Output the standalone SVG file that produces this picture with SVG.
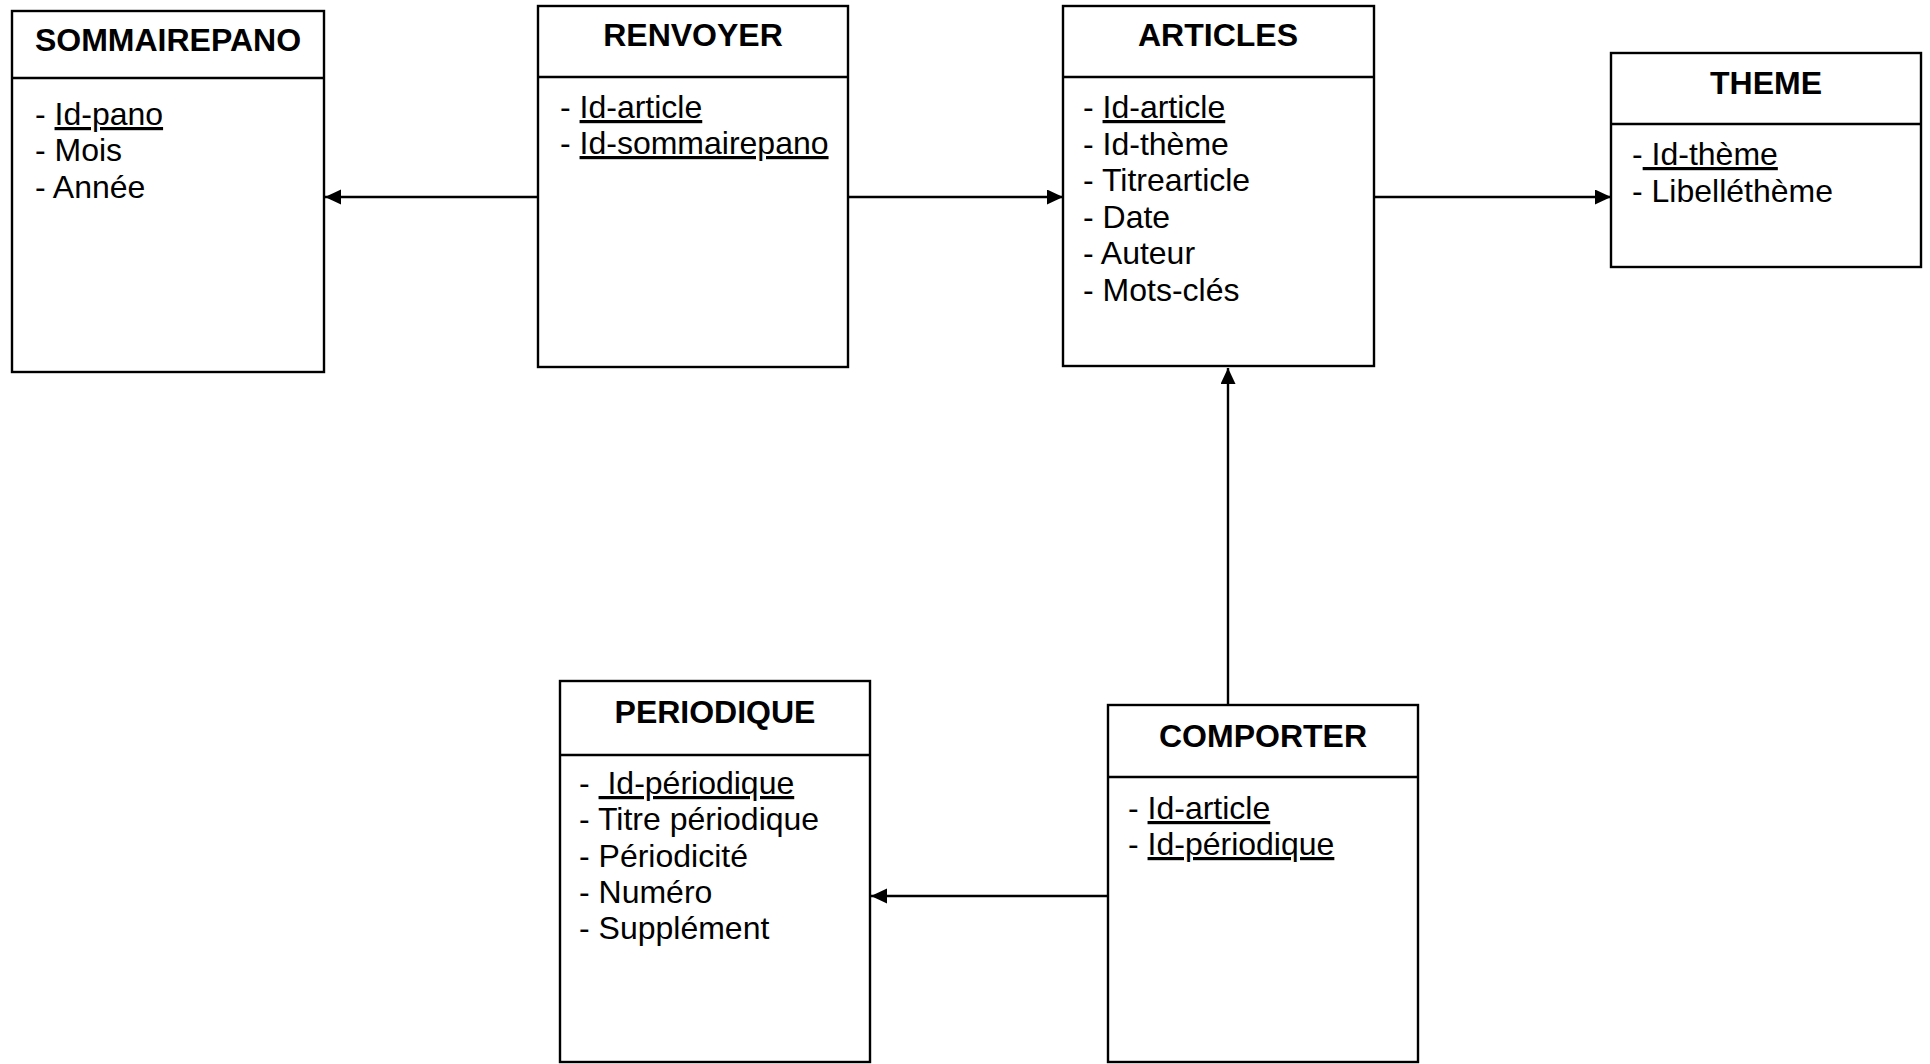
<svg xmlns="http://www.w3.org/2000/svg" width="1930" height="1064" viewBox="0 0 1930 1064">
<defs>
<style>
.box{fill:#fff;stroke:#000;stroke-width:2.4}
.div{stroke:#000;stroke-width:2.4}
.title{font-family:"Liberation Sans",Arial,sans-serif;font-weight:bold;font-size:32px;fill:#000;text-anchor:middle}
.item{font-family:"Liberation Sans",Arial,sans-serif;font-size:32px;fill:#000}
.u{text-decoration:underline}
.conn{stroke:#000;stroke-width:2.4;fill:none}
</style>
<marker id="arr" markerUnits="userSpaceOnUse" markerWidth="17" markerHeight="16" refX="16" refY="7.5" orient="auto">
<path d="M0,0 L16,7.5 L0,15 z" fill="#000"/>
</marker>
</defs>
<rect width="1930" height="1064" fill="#fff"/>
<g id="connectors">
<line class="conn" x1="538" y1="197" x2="325" y2="197" marker-end="url(#arr)"/>
<line class="conn" x1="848" y1="197" x2="1063" y2="197" marker-end="url(#arr)"/>
<line class="conn" x1="1374" y1="197" x2="1611" y2="197" marker-end="url(#arr)"/>
<line class="conn" x1="1228" y1="705" x2="1228" y2="368" marker-end="url(#arr)"/>
<line class="conn" x1="1108" y1="896" x2="871" y2="896" marker-end="url(#arr)"/>
</g>
<g id="sommairepano">
<rect class="box" x="12" y="11" width="312" height="361"/>
<line class="div" x1="12" y1="78" x2="324" y2="78"/>
<text class="title" x="168" y="51">SOMMAIREPANO</text>
<text class="item" x="35" y="125">- <tspan class="u">Id-pano</tspan></text>
<text class="item" x="35" y="161">- Mois</text>
<text class="item" x="35" y="198">- Année</text>
</g>
<g id="renvoyer">
<rect class="box" x="538" y="6" width="310" height="361"/>
<line class="div" x1="538" y1="77" x2="848" y2="77"/>
<text class="title" x="693" y="46">RENVOYER</text>
<text class="item" x="560" y="118">- <tspan class="u">Id-article</tspan></text>
<text class="item" x="560" y="154">- <tspan class="u">Id-sommairepano</tspan></text>
</g>
<g id="articles">
<rect class="box" x="1063" y="6" width="311" height="360"/>
<line class="div" x1="1063" y1="77" x2="1374" y2="77"/>
<text class="title" x="1218" y="46">ARTICLES</text>
<text class="item" x="1083" y="118">- <tspan class="u">Id-article</tspan></text>
<text class="item" x="1083" y="155">- Id-thème</text>
<text class="item" x="1083" y="191">- Titrearticle</text>
<text class="item" x="1083" y="228">- Date</text>
<text class="item" x="1083" y="264">- Auteur</text>
<text class="item" x="1083" y="301">- Mots-clés</text>
</g>
<g id="theme">
<rect class="box" x="1611" y="53" width="310" height="214"/>
<line class="div" x1="1611" y1="124" x2="1921" y2="124"/>
<text class="title" x="1766" y="94">THEME</text>
<text class="item" x="1632" y="165">-<tspan class="u"> Id-thème</tspan></text>
<text class="item" x="1632" y="202">- Libelléthème</text>
</g>
<g id="periodique">
<rect class="box" x="560" y="681" width="310" height="381"/>
<line class="div" x1="560" y1="755" x2="870" y2="755"/>
<text class="title" x="715" y="723">PERIODIQUE</text>
<text class="item" x="579" y="794" xml:space="preserve">- <tspan class="u"> Id-périodique</tspan></text>
<text class="item" x="579" y="830">- Titre périodique</text>
<text class="item" x="579" y="867">- Périodicité</text>
<text class="item" x="579" y="903">- Numéro</text>
<text class="item" x="579" y="939">- Supplément</text>
</g>
<g id="comporter">
<rect class="box" x="1108" y="705" width="310" height="357"/>
<line class="div" x1="1108" y1="777" x2="1418" y2="777"/>
<text class="title" x="1263" y="747">COMPORTER</text>
<text class="item" x="1128" y="819">- <tspan class="u">Id-article</tspan></text>
<text class="item" x="1128" y="855">- <tspan class="u">Id-périodique</tspan></text>
</g>
</svg>
